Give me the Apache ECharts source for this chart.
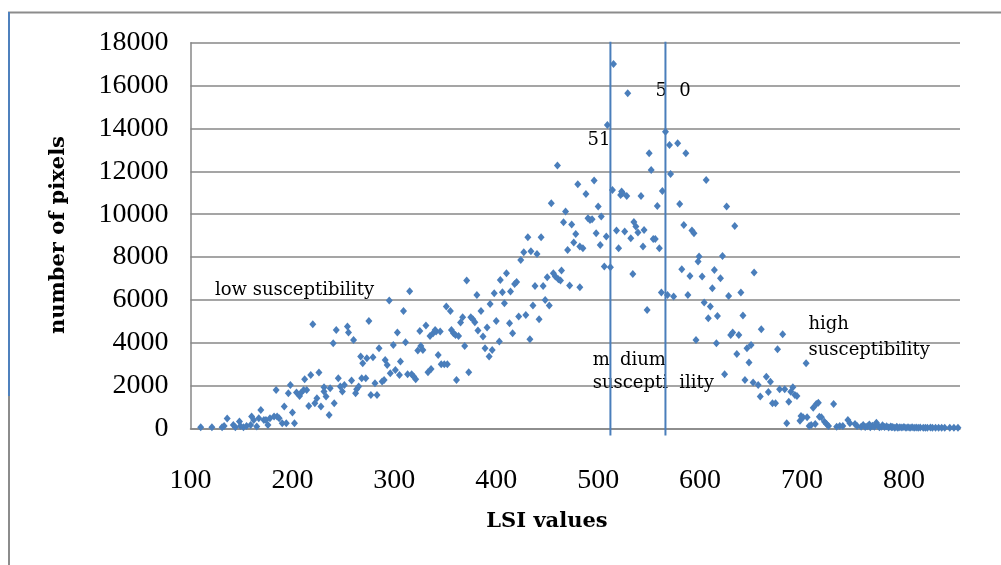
<!DOCTYPE html>
<html>
<head>
<meta charset="utf-8">
<script src="https://cdn.jsdelivr.net/npm/echarts@6/dist/echarts.min.js"></script>
<style>
  html, body { margin: 0; padding: 0; background: #ffffff; }
  #chart { width: 1001px; height: 565px; }
</style>
</head>
<body>
<div id="chart"></div>
<script>
// LSI value of each class and the number of pixels that fall in it
const lsi = [
  110,121,131,133,136,142,144,148,149,152,155,159,160,162,165,167,169,172,174,176,
  178,182,184,185,187,190,192,194,196,198,200,202,204,207,208,211,212,214,216,218,
  220,222,224,226,228,231,231,233,236,237,240,241,243,245,247,249,251,254,255,258,
  260,262,263,265,267,268,269,272,273,275,277,279,281,283,285,288,290,291,293,295,
  296,299,301,303,305,306,
  309,311,313,315,317,319,321,323,325,326,328,331,333,335,336,338,340,341,343,345,
  346,349,351,352,355,356,358,360,361,363,365,367,369,371,373,375,377,379,381,382,
  385,387,389,391,393,394,396,398,400,403,404,406,408,410,413,414,416,418,420,422,
  424,427,429,431,433,434,436,438,440,442,444,446,448,450,452,454,456,458,460,461,
  463,464,466,468,470,472,474,476,478,480,482,482,
  485,488,490,492,494,496,498,500,502,503,506,508,509,512,514,515,518,520,522,523,
  524,526,528,529,532,534,535,537,539,542,544,545,548,550,552,554,556,558,560,562,
  563,566,568,570,571,574,578,580,582,584,586,588,590,592,594,596,598,599,602,604,
  606,608,610,612,614,616,617,620,622,624,626,628,630,632,634,636,638,640,642,644,
  646,648,650,652,653,657,659,660,
  665,667,669,671,674,676,678,681,683,685,687,689,691,693,695,698,699,701,704,705,
  707,709,711,713,714,716,717,719,722,724,726,731,734,737,740,745,747,752,754,758,
  760,762,764,766,767,769,771,773,775,776,778,779,781,783,785,787,788,789,791,793,
  794,796,798,800,802,804,806,808,810,812,814,816,819,821,823,826,828,831,834,837,
  840,845,849,853
];
const pixels = [
  58,58,58,121,463,167,58,323,121,58,121,167,556,401,90,478,867,401,401,167,
  478,556,1800,556,478,245,1022,245,1645,2034,743,245,1676,1520,1645,1800,2298,1800,1054,2500,
  4863,1178,1411,2609,1022,1723,1924,1489,634,1878,3977,1178,4599,2345,1956,1723,2034,4755,4474,2236,
  4133,1645,1831,1956,3355,2345,3044,2345,3277,5019,1567,3324,2111,1567,3744,2189,2267,3200,2966,5967,
  2577,3899,2733,4474,2500,3122,
  5485,4024,2531,6403,2531,2422,2298,3635,4553,3853,3666,4801,2624,4319,2780,4444,4599,4521,3433,4521,
  2997,2997,5687,2997,5485,4599,4444,4366,2267,4319,4941,5190,3853,6900,2624,5190,5097,4957,6232,4568,
  5485,4288,3744,4708,3355,5812,3666,6310,5019,4055,6932,6356,5843,7243,4910,6388,4444,6745,6838,5221,
  7865,8222,5299,8922,4164,8269,5734,6652,8144,5097,8922,6652,5998,7056,5734,10508,7243,7087,12265,6963,
  6900,7367,9622,10119,8331,6667,9513,8673,9077,11394,8486,6590,
  8409,10943,9808,9730,9762,11565,9109,10353,8564,9886,7554,8953,14162,7523,11130,17008,9233,8409,10897,11052,
  10975,9187,10850,15640,8875,7211,9637,9420,9140,10850,8486,9264,5532,12841,12063,8844,8844,10384,8409,6341,
  11083,13851,6232,13229,11876,6154,13307,10477,7429,9497,12841,6232,7118,9233,9109,4133,7787,8020,7087,5874,
  11596,5143,5688,6543,7398,3977,5252,7009,8051,2531,10353,6185,4366,4474,9451,3480,4366,6341,5268,2267,
  3744,3075,3899,2143,7274,2034,1489,4630,
  2420,1704,2186,1175,1175,3695,1828,4394,1828,242,1253,1720,1922,1564,1518,367,585,522,3042,522,
  118,165,973,211,1144,1207,554,522,320,211,118,1144,87,118,118,398,242,211,118,87,
  160,70,110,190,60,130,80,274,100,60,87,150,70,100,50,90,56,70,40,80,
  40,60,45,70,40,55,40,60,35,50,40,45,35,40,30,45,30,40,30,35,
  30,35,30,35
];

// axis ranges
const xRange = { min: 100, max: 855, step: 100 };
const yRange = { min: 0, max: 18000, step: 2000 };

// class boundaries between low / medium / high susceptibility
const classBreaks = [512, 566];

const tickFont = '"Liberation Serif", "Times New Roman", serif';
const noteFont = '"DejaVu Serif", serif';
const gridGrey = '#878787';
const markBlue = '#4a7ebb';

const chart = echarts.init(document.getElementById('chart'), null, { renderer: 'canvas' });
const points = lsi.map((v, i) => [v, pixels[i]]);
const plain = v => String(v);

chart.setOption({
  animation: false,
  backgroundColor: '#ffffff',
  grid: { left: 190.5, right: 41, top: 42.7, bottom: 136.5, containLabel: false },
  xAxis: {
    type: 'value',
    min: xRange.min, max: xRange.max, interval: xRange.step,
    axisLine: { show: true, onZero: false, lineStyle: { color: gridGrey, width: 1.5 } },
    axisTick: { show: false },
    splitLine: { show: false },
    axisLabel: {
      margin: 38, fontFamily: tickFont, fontSize: 28, color: '#000',
      showMaxLabel: false, formatter: plain
    }
  },
  yAxis: {
    type: 'value',
    min: yRange.min, max: yRange.max, interval: yRange.step,
    axisLine: { show: true, lineStyle: { color: gridGrey, width: 1.5 } },
    axisTick: { show: false },
    splitLine: { show: true, lineStyle: { color: gridGrey, width: 1.5 } },
    axisLabel: { margin: 22, fontFamily: tickFont, fontSize: 28, color: '#000', formatter: plain }
  },
  series: [{
    type: 'scatter',
    data: points,
    symbol: 'diamond',
    symbolSize: [7, 8],
    itemStyle: { color: markBlue, opacity: 1 },
    silent: true
  }]
});

// vertical class-break lines, placed through the axes
const breakLines = classBreaks.map(b => {
  const top = chart.convertToPixel({ gridIndex: 0 }, [b, yRange.max]);
  const bot = chart.convertToPixel({ gridIndex: 0 }, [b, yRange.min]);
  return {
    type: 'line', z: 50,
    shape: { x1: top[0], y1: top[1] - 1, x2: bot[0], y2: bot[1] + 7 },
    style: { stroke: markBlue, lineWidth: 2 }
  };
});

function note(text, x, y, opts) {
  return {
    type: 'text', z: 40, x: x, y: y,
    style: Object.assign({
      text: text, fill: '#000', font: '18px ' + noteFont,
      textAlign: 'left', textVerticalAlign: 'middle'
    }, opts || {})
  };
}

chart.setOption({
  graphic: [
    // page frame
    { type: 'line', shape: { x1: 8, y1: 12.5, x2: 1001, y2: 12.5 }, style: { stroke: '#8c8c8c', lineWidth: 2 } },
    { type: 'line', shape: { x1: 9, y1: 12, x2: 9, y2: 396 }, style: { stroke: '#4f81bd', lineWidth: 2 } },
    { type: 'line', shape: { x1: 9, y1: 396, x2: 9, y2: 565 }, style: { stroke: '#8c8c8c', lineWidth: 2 } },
    ...breakLines,
    // susceptibility classes
    note('low susceptibility', 215, 290),
    note('high', 808.5, 324.5),
    note('susceptibility', 808.5, 350),
    note('m', 592.7, 360),
    note('dium', 620, 360),
    note('suscepti', 592.7, 383.3),
    note('ility', 679.3, 383.3),
    note('51', 610.5, 140.6, { textAlign: 'right' }),
    note('5', 667, 91, { textAlign: 'right' }),
    note('0', 679.3, 91),
    // axis titles
    {
      type: 'text', x: 547, y: 522,
      style: { text: 'LSI values', fill: '#000', font: 'bold 21px ' + noteFont, textAlign: 'center', textVerticalAlign: 'middle' }
    },
    {
      type: 'text', x: 59, y: 235, rotation: Math.PI / 2,
      style: { text: 'number of pixels', fill: '#000', font: 'bold 21px ' + noteFont, textAlign: 'center', textVerticalAlign: 'middle' }
    }
  ]
});
</script>
</body>
</html>
